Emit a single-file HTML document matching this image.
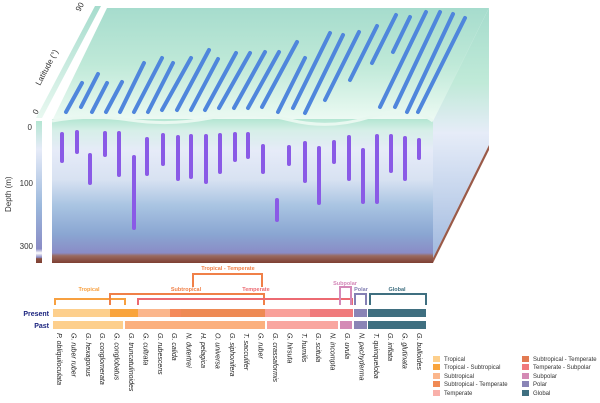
<!DOCTYPE html>
<html><head><meta charset="utf-8"><style>
html,body{margin:0;padding:0;background:#fff}
svg{display:block;font-family:"Liberation Sans",sans-serif}
</style></head><body>
<svg width="600" height="403" viewBox="0 0 600 403" xmlns="http://www.w3.org/2000/svg">
<defs>
<linearGradient id="front" x1="0" y1="0" x2="0" y2="1">
<stop offset="0" stop-color="#b4e6d2"/>
<stop offset="0.08" stop-color="#d6efe8"/>
<stop offset="0.22" stop-color="#e6ebf8"/>
<stop offset="0.42" stop-color="#d8e2f2"/>
<stop offset="0.6" stop-color="#a9c4e2"/>
<stop offset="0.8" stop-color="#8aa6d2"/>
<stop offset="0.93" stop-color="#8a8cc6"/>
<stop offset="0.95" stop-color="#9a6a60"/>
<stop offset="1" stop-color="#7e3f32"/>
</linearGradient>
<linearGradient id="top" x1="0" y1="0" x2="0" y2="1">
<stop offset="0" stop-color="#a6dccd"/>
<stop offset="0.5" stop-color="#bfe9d8"/>
<stop offset="0.9" stop-color="#e4f7ee"/>
<stop offset="1" stop-color="#eefaf4"/>
</linearGradient>
<linearGradient id="side" x1="0" y1="0" x2="0" y2="1">
<stop offset="0" stop-color="#a6dccd"/>
<stop offset="0.3" stop-color="#c0ead8"/>
<stop offset="0.5" stop-color="#e6ecf8"/>
<stop offset="0.75" stop-color="#c4d4ec"/>
<stop offset="1" stop-color="#a0b8de"/>
</linearGradient>
<linearGradient id="depth" x1="0" y1="0" x2="0" y2="1">
<stop offset="0" stop-color="#b4e6d2"/>
<stop offset="0.2" stop-color="#e6ebf8"/>
<stop offset="0.6" stop-color="#9bb8dc"/>
<stop offset="0.9" stop-color="#8a8cc6"/>
<stop offset="0.93" stop-color="#fff"/>
<stop offset="0.96" stop-color="#8a8cc6"/>
<stop offset="0.97" stop-color="#8a5040"/>
<stop offset="1" stop-color="#7e3f32"/>
</linearGradient>
<linearGradient id="lat" x1="0" y1="1" x2="0" y2="0">
<stop offset="0" stop-color="#e8f8f0"/>
<stop offset="1" stop-color="#a6dccd"/>
</linearGradient>
</defs>

<polygon points="52,121 107,8 489,8 433,121" fill="url(#top)"/>
<polygon points="433,121 489,8 489,145 433,258" fill="url(#side)"/>
<polygon points="433,258 489,145 489,150 433,263" fill="#9a5a48"/>
<rect x="52" y="119" width="381" height="144" fill="url(#front)"/>
<path d="M52,121 Q90,114 130,120 T210,118 T290,120 T370,117 T433,121" fill="none" stroke="#e8f8f0" stroke-width="3"/>

<polygon points="36,118 95,6 101,6 42,118" fill="url(#lat)"/>
<text transform="translate(37,115) rotate(-62)" font-size="8" fill="#333">0</text>
<text transform="translate(80,12) rotate(-62)" font-size="8" fill="#333">90</text>
<text transform="translate(40,86) rotate(-62)" font-size="8" fill="#333">Latitude (°)</text>

<rect x="36" y="121" width="6" height="142" fill="url(#depth)"/>
<text x="32" y="130" font-size="8" text-anchor="end" fill="#333">0</text>
<text x="33" y="186" font-size="8" text-anchor="end" fill="#333">100</text>
<text x="33" y="249" font-size="8" text-anchor="end" fill="#333">300</text>
<text transform="translate(11,212) rotate(-90)" font-size="8" fill="#333">Depth (m)</text>

<g stroke="#4f86dc" stroke-width="4" stroke-linecap="round">
<line x1="66" y1="112" x2="82" y2="83"/>
<line x1="81" y1="107" x2="98" y2="74"/>
<line x1="92" y1="112" x2="107" y2="83"/>
<line x1="106" y1="112" x2="122" y2="82"/>
<line x1="120" y1="112" x2="144" y2="63"/>
<line x1="134" y1="112" x2="162" y2="58"/>
<line x1="148" y1="112" x2="173" y2="63"/>
<line x1="162" y1="110" x2="191" y2="58"/>
<line x1="177" y1="110" x2="209" y2="50"/>
<line x1="191" y1="110" x2="218" y2="59"/>
<line x1="205" y1="110" x2="236" y2="53"/>
<line x1="219" y1="108" x2="250" y2="53"/>
<line x1="234" y1="108" x2="265" y2="52"/>
<line x1="248" y1="108" x2="279" y2="52"/>
<line x1="262" y1="107" x2="297" y2="42"/>
<line x1="278" y1="112" x2="305" y2="58"/>
<line x1="293" y1="108" x2="330" y2="33"/>
<line x1="305" y1="113" x2="343" y2="35"/>
<line x1="325" y1="100" x2="359" y2="32"/>
<line x1="350" y1="80" x2="377" y2="26"/>
<line x1="372" y1="63" x2="396" y2="15"/>
<line x1="393" y1="52" x2="410" y2="17"/>
<line x1="380" y1="107" x2="426" y2="12"/>
<line x1="395" y1="107" x2="440" y2="12"/>
<line x1="407" y1="112" x2="453" y2="14"/>
<line x1="418" y1="112" x2="465" y2="18"/>
</g>

<g stroke="#8a5ae6" stroke-width="4" stroke-linecap="round">
<line x1="62" y1="134" x2="62" y2="161"/>
<line x1="77" y1="132" x2="77" y2="152"/>
<line x1="90" y1="155" x2="90" y2="183"/>
<line x1="105" y1="133" x2="105" y2="155"/>
<line x1="119" y1="133" x2="119" y2="175"/>
<line x1="134" y1="157" x2="134" y2="228"/>
<line x1="147" y1="139" x2="147" y2="174"/>
<line x1="163" y1="135" x2="163" y2="164"/>
<line x1="178" y1="137" x2="178" y2="179"/>
<line x1="191" y1="136" x2="191" y2="177"/>
<line x1="206" y1="136" x2="206" y2="182"/>
<line x1="220" y1="135" x2="220" y2="172"/>
<line x1="235" y1="134" x2="235" y2="160"/>
<line x1="248" y1="134" x2="248" y2="157"/>
<line x1="263" y1="146" x2="263" y2="172"/>
<line x1="277" y1="200" x2="277" y2="220"/>
<line x1="289" y1="147" x2="289" y2="164"/>
<line x1="305" y1="143" x2="305" y2="181"/>
<line x1="319" y1="148" x2="319" y2="203"/>
<line x1="334" y1="142" x2="334" y2="162"/>
<line x1="349" y1="137" x2="349" y2="179"/>
<line x1="363" y1="150" x2="363" y2="202"/>
<line x1="377" y1="136" x2="377" y2="202"/>
<line x1="391" y1="136" x2="391" y2="171"/>
<line x1="405" y1="138" x2="405" y2="179"/>
<line x1="419" y1="140" x2="419" y2="158"/>
</g>

<g fill="none" stroke-width="2">
<polyline points="55,305 55,299 125,299 125,305" stroke="#f7a040"/>
<polyline points="110,305 110,294 264,294 264,305" stroke="#f08048"/>
<polyline points="138,305 138,299 352,299 352,305" stroke="#ec6a72"/>
<polyline points="193,287 193,274 262,274 262,287" stroke="#f08048"/>
<polyline points="340,305 340,287 351,287 351,305" stroke="#d488b8"/>
<polyline points="355,305 355,294 366,294 366,305" stroke="#8480b4"/>
<polyline points="370,305 370,294 426,294 426,305" stroke="#3f6f80"/>
</g>
<g font-size="5.5" font-weight="bold" text-anchor="middle">
<text x="228" y="270" fill="#f08048">Tropical - Temperate</text>
<text x="89" y="291" fill="#f7a040">Tropical</text>
<text x="186" y="291" fill="#f08048">Subtropical</text>
<text x="256" y="291" fill="#ec6a72">Temperate</text>
<text x="345" y="285" fill="#d488b8">Subpolar</text>
<text x="361" y="291" fill="#8480b4">Polar</text>
<text x="397" y="291" fill="#3f6f80">Global</text>
</g>

<g>
<rect x="53" y="309" width="57" height="8" fill="#fdcf8c"/>
<rect x="110" y="309" width="28" height="8" fill="#f9a43c"/>
<rect x="138" y="309" width="32" height="8" fill="#fbb68c"/>
<rect x="170" y="309" width="12" height="8" fill="#f4895a"/>
<rect x="181" y="309" width="84" height="8" fill="#ee8a54"/>
<rect x="265" y="309" width="45" height="8" fill="#f9a09a"/>
<rect x="310" y="309" width="43" height="8" fill="#f07a7c"/>
<rect x="354" y="309" width="13" height="8" fill="#8a84b6"/>
<rect x="368" y="309" width="58" height="8" fill="#3f6f80"/>
<rect x="53" y="321" width="70" height="8" fill="#fdcf8c"/>
<rect x="125" y="321" width="140" height="8" fill="#fbb07e"/>
<rect x="267" y="321" width="71" height="8" fill="#f9a6a0"/>
<rect x="340" y="321" width="12" height="8" fill="#d48ab5"/>
<rect x="354" y="321" width="13" height="8" fill="#8a84b6"/>
<rect x="368" y="321" width="58" height="8" fill="#3f6f80"/>
</g>
<text x="49" y="316" font-size="7" font-weight="bold" fill="#1a237e" text-anchor="end">Present</text>
<text x="49" y="328" font-size="7" font-weight="bold" fill="#1a237e" text-anchor="end">Past</text>

<g font-size="7" font-style="italic" fill="#222">
<text transform="translate(57,333) rotate(90)">P. obliquiloculata</text>
<text transform="translate(71.4,333) rotate(90)">G. ruber ruber</text>
<text transform="translate(85.8,333) rotate(90)">G. hexagonus</text>
<text transform="translate(100.2,333) rotate(90)">G. conglomerata</text>
<text transform="translate(114.6,333) rotate(90)">G. conglobatus</text>
<text transform="translate(129,333) rotate(90)">G. truncatulinoides</text>
<text transform="translate(143.4,333) rotate(90)">G. cultrata</text>
<text transform="translate(157.8,333) rotate(90)">G. rubescens</text>
<text transform="translate(172.2,333) rotate(90)">G. calida</text>
<text transform="translate(186.6,333) rotate(90)">N. dutertrei</text>
<text transform="translate(201,333) rotate(90)">H. pelagica</text>
<text transform="translate(215.4,333) rotate(90)">O. universa</text>
<text transform="translate(229.8,333) rotate(90)">G. siphonifera</text>
<text transform="translate(244.2,333) rotate(90)">T. sacculifer</text>
<text transform="translate(258.6,333) rotate(90)">G. ruber</text>
<text transform="translate(273,333) rotate(90)">G. crassaformis</text>
<text transform="translate(287.4,333) rotate(90)">G. hirsuta</text>
<text transform="translate(301.8,333) rotate(90)">T. humilis</text>
<text transform="translate(316.2,333) rotate(90)">G. scitula</text>
<text transform="translate(330.6,333) rotate(90)">N. incompta</text>
<text transform="translate(345,333) rotate(90)">G. uvula</text>
<text transform="translate(359.4,333) rotate(90)">N. pachyderma</text>
<text transform="translate(373.8,333) rotate(90)">T. quinqueloba</text>
<text transform="translate(388.2,333) rotate(90)">G. inflata</text>
<text transform="translate(402.6,333) rotate(90)">G. glutinata</text>
<text transform="translate(417,333) rotate(90)">G. bulloides</text>
</g>

<g font-size="6" fill="#333">
<rect x="433" y="356" width="7" height="6" fill="#fdcf8c"/><text x="444" y="361">Tropical</text>
<rect x="433" y="364" width="7" height="6" fill="#f9a43c"/><text x="444" y="369">Tropical - Subtropical</text>
<rect x="433" y="373" width="7" height="6" fill="#fbb68c"/><text x="444" y="378">Subtropical</text>
<rect x="433" y="381" width="7" height="6" fill="#f08a54"/><text x="444" y="386">Subtropical - Temperate</text>
<rect x="433" y="390" width="7" height="6" fill="#f9b0aa"/><text x="444" y="395">Temperate</text>
<rect x="522" y="356" width="7" height="6" fill="#e27a52"/><text x="533" y="361">Subtropical - Temperate</text>
<rect x="522" y="364" width="7" height="6" fill="#f07a7c"/><text x="533" y="369">Temperate - Subpolar</text>
<rect x="522" y="373" width="7" height="6" fill="#d48ab5"/><text x="533" y="378">Subpolar</text>
<rect x="522" y="381" width="7" height="6" fill="#8a84b6"/><text x="533" y="386">Polar</text>
<rect x="522" y="390" width="7" height="6" fill="#3f6f80"/><text x="533" y="395">Global</text>
</g>
</svg>
</body></html>
